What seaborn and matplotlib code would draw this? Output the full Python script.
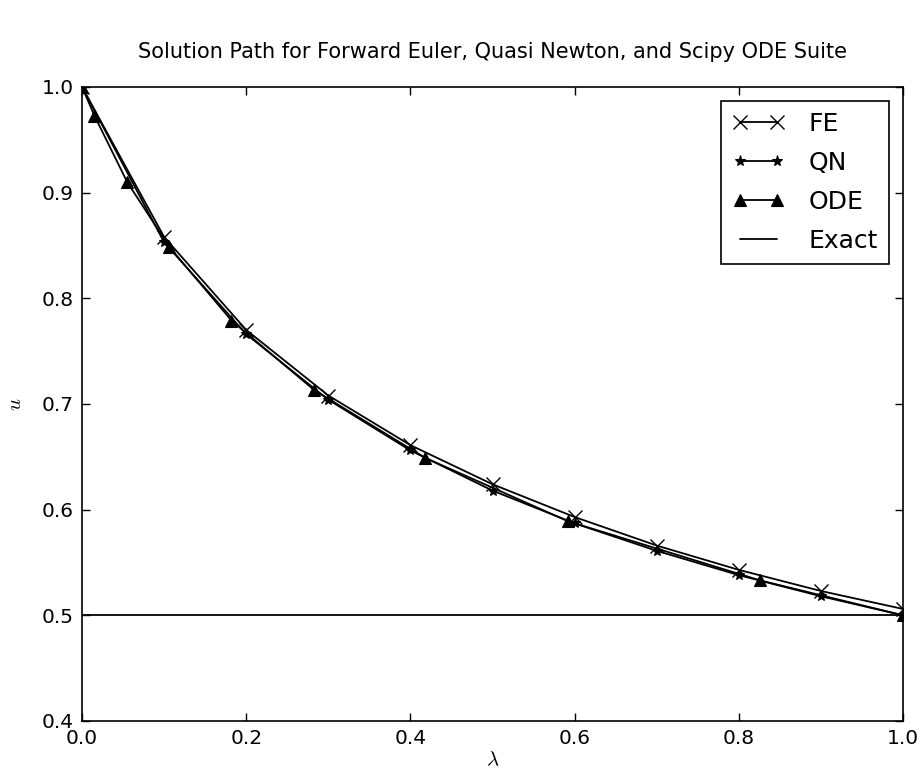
import numpy as np
import pandas as pd
import matplotlib
matplotlib.use("Agg")
import matplotlib.pyplot as plt
import seaborn as sns

lam_fe = [0.0, 0.1, 0.2, 0.3, 0.4, 0.5, 0.6, 0.7, 0.8, 0.9, 1.0]
u_fe = [1.0, 0.858, 0.770, 0.708, 0.661, 0.624, 0.593, 0.566, 0.543, 0.523, 0.506]

lam_qn = [0.0, 0.1, 0.2, 0.3, 0.4, 0.5, 0.6, 0.7, 0.8, 0.9, 1.0]
u_qn = [1.0, 0.853, 0.766, 0.704, 0.656, 0.618, 0.587, 0.561, 0.538, 0.518, 0.500]

lam_ode = [0.0, 0.015, 0.055, 0.106, 0.182, 0.283, 0.418, 0.592, 0.826, 1.0]
u_ode = [1.0, 0.973, 0.910, 0.849, 0.779, 0.713, 0.649, 0.589, 0.533, 0.500]

lam_exact = [0.0, 1.0]
u_exact = [0.5, 0.5]

sns.set_style("ticks", rc={'text.color': 'black', 'axes.labelcolor': 'black',
                           'xtick.color': 'black', 'ytick.color': 'black',
                           'axes.edgecolor': 'black'})
plt.rcParams['font.family'] = ['DejaVu Sans']
plt.rcParams['mathtext.fontset'] = 'cm'

fig = plt.figure(figsize=(9.23, 7.78), dpi=100)
ax = fig.add_axes([0.0889, 0.0733, 0.8895, 0.8149])

common = dict(color='black', linewidth=1.3, ax=ax, sort=False, estimator=None)
sns.lineplot(x=lam_fe, y=u_fe, marker='x', markersize=10, markeredgewidth=1.0,
             markeredgecolor='black', label='FE', **common)
sns.lineplot(x=lam_qn, y=u_qn, marker='*', markersize=8, markeredgewidth=0.8,
             markeredgecolor='black', label='QN', **common)
sns.lineplot(x=lam_ode, y=u_ode, marker='^', markersize=9, markeredgewidth=0.8,
             markeredgecolor='black', label='ODE', **common)
sns.lineplot(x=lam_exact, y=u_exact, label='Exact', **common)

ax.set_xlim(0, 1.0)
ax.set_ylim(0.4, 1.0)
ax.set_xticks(np.arange(0, 1.01, 0.2))
ax.set_yticks(np.arange(0.4, 1.01, 0.1))
ax.xaxis.set_major_formatter(matplotlib.ticker.FormatStrFormatter('%.1f'))
ax.yaxis.set_major_formatter(matplotlib.ticker.FormatStrFormatter('%.1f'))
ax.tick_params(direction='in', length=6, width=1, labelsize=14.5,
               top=True, right=True, pad=6)
for s in ax.spines.values():
    s.set_visible(True)
    s.set_linewidth(1.2)
    s.set_color('black')

ax.set_xlabel(r'$\lambda$', fontsize=15, labelpad=1)
ax.set_ylabel(r'$u$', fontsize=15, labelpad=12)
ax.set_title('Solution Path for Forward Euler, Quasi Newton, and Scipy ODE Suite',
             fontsize=15, pad=21)

leg = ax.legend(loc='upper right', fontsize=18, frameon=True, fancybox=False,
                edgecolor='black', framealpha=1, handlelength=2.1, numpoints=2,
                borderaxespad=0.55, labelspacing=0.6, borderpad=0.45,
                handletextpad=0.95)
leg.get_frame().set_linewidth(1.2)

fig.savefig('out.png', dpi=100)
